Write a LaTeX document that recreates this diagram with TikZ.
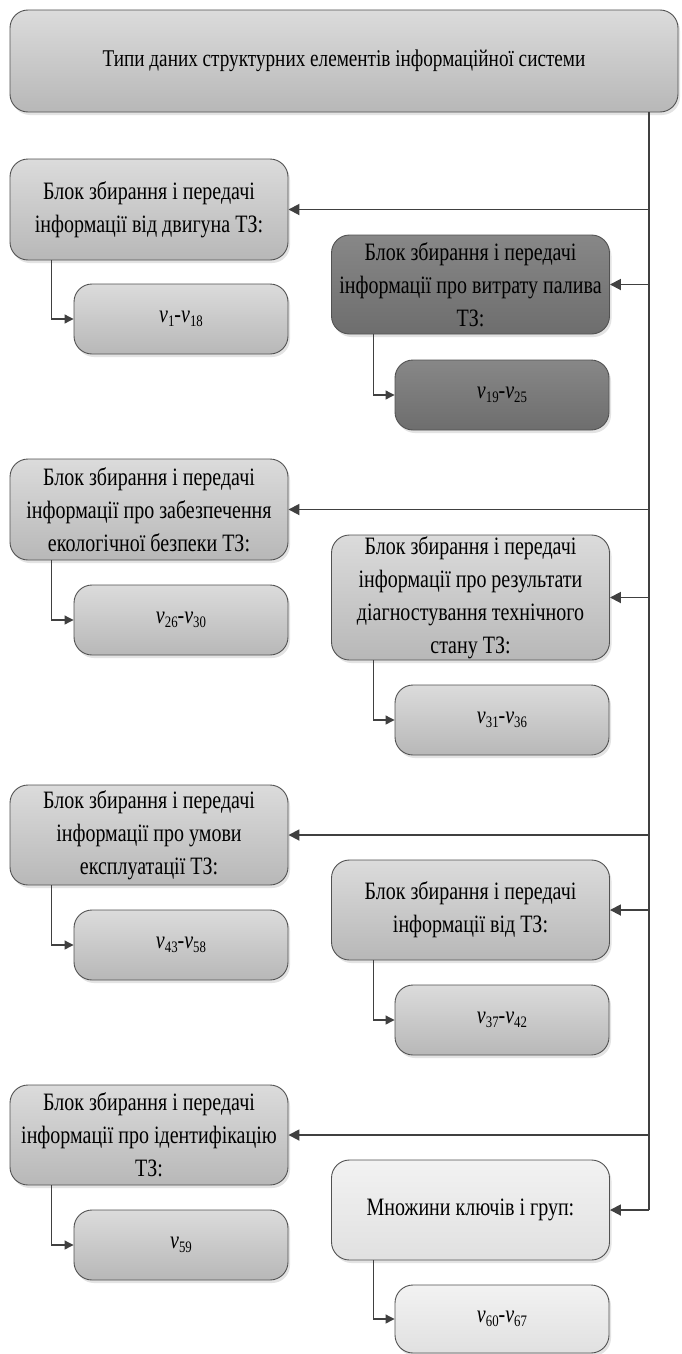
\documentclass[tikz,border=0pt]{standalone}
\usepackage{fontspec}
\setmainfont{Liberation Serif}[FakeStretch=0.8]
\usetikzlibrary{shadows,arrows.meta}
\newcommand{\vsub}[1]{\textit{v}\raisebox{-0.4ex}{\fontsize{16}{16}\selectfont #1}}
\begin{document}
\begin{tikzpicture}[x=1pt,y=-1pt,
  box/.style={draw=black!68, line width=0.9pt, rounded corners=18pt, inner sep=0pt,
    align=center, font=\fontsize{25}{33}\selectfont,
    drop shadow={opacity=0.22, shadow xshift=2pt, shadow yshift=-3pt}},
  midbox/.style={box, top color=black!14, bottom color=black!28},
  darkbox/.style={box, top color=black!47, bottom color=black!57},
  lightbox/.style={box, top color=black!5, bottom color=black!12},
  parent/.style={minimum width=278pt, minimum height=101pt},
  child/.style={minimum width=214pt, minimum height=70pt},
  link/.style={draw=black!75, line width=1.8pt, -{Triangle[length=11pt,width=11pt]}},
  sublink/.style={draw=black!75, line width=1.1pt, -{Triangle[length=9pt,width=9pt]}}
]
\useasboundingbox (0,0) rectangle (682,1354);
\fill[white] (0,0) rectangle (682,1354);

\node[midbox, minimum width=668pt, minimum height=102pt, font=\fontsize{24}{33}\selectfont] (top) at (344,61)
  {Типи даних структурних елементів інформаційної системи};

\node[midbox, parent] (b1) at (149,209.5) {Блок збирання і передачі\\інформації від двигуна ТЗ:};
\node[midbox, child] (c1) at (181,319) {\vsub{1}-\vsub{18}};

\node[darkbox, parent, minimum height=99pt] (b2) at (470.5,284.5) {Блок збирання і передачі\\інформації про витрату палива\\ТЗ:};
\node[darkbox, child] (c2) at (502,395) {\vsub{19}-\vsub{25}};

\node[midbox, parent] (b3) at (149,509.5) {Блок збирання і передачі\\інформації про забезпечення\\екологічної безпеки ТЗ:};
\node[midbox, child] (c3) at (181,620) {\vsub{26}-\vsub{30}};

\node[midbox, parent, minimum height=125pt] (b4) at (470.5,597.5) {Блок збирання і передачі\\інформації про результати\\діагностування технічного\\стану ТЗ:};
\node[midbox, child] (c4) at (502,720) {\vsub{31}-\vsub{36}};

\node[midbox, parent, minimum height=100pt] (b5) at (149,835) {Блок збирання і передачі\\інформації про умови\\експлуатації ТЗ:};
\node[midbox, child] (c5) at (181,945) {\vsub{43}-\vsub{58}};

\node[midbox, parent, minimum height=100pt] (b6) at (470.5,910) {Блок збирання і передачі\\інформації від ТЗ:};
\node[midbox, child] (c6) at (502,1020) {\vsub{37}-\vsub{42}};

\node[midbox, parent, minimum height=100pt] (b7) at (149,1135) {Блок збирання і передачі\\інформації про ідентифікацію\\ТЗ:};
\node[midbox, child] (c7) at (181,1245) {\vsub{59}};

\node[lightbox, parent, minimum height=100pt] (b8) at (470.5,1210) {Множини ключів і груп:};
\node[lightbox, child, minimum height=68pt] (c8) at (502,1319) {\vsub{60}-\vsub{67}};

\coordinate (tr) at (649,0);
\draw[draw=black!75, line width=1.8pt] (top.south -| tr) -- (b8.east -| tr);
\foreach \b in {b1,b2,b3,b4,b5,b6,b7,b8}
  \draw[link] (\b.east -| tr) -- (\b.east);

\foreach \b/\c in {b1/c1,b2/c2,b3/c3,b4/c4,b5/c5,b6/c6,b7/c7,b8/c8}
  \draw[sublink] ([xshift=42pt]\b.south west) |- (\c.west);
\end{tikzpicture}
\end{document}
